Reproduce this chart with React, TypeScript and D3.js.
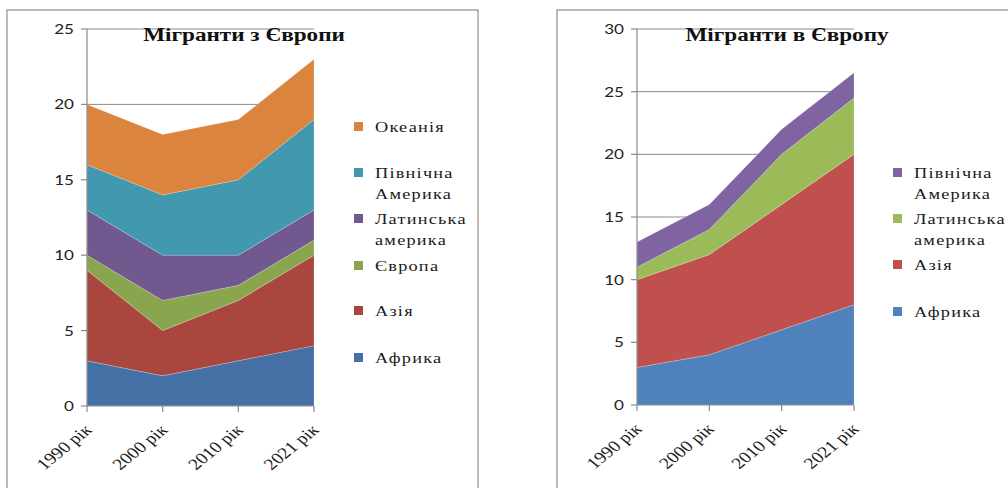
import React, { useEffect, useRef } from 'react';
import * as d3 from 'd3';

const years = ['1990 рік', '2000 рік', '2010 рік', '2021 рік'];

// Мігранти з Європи (bottom to top)
const fromKeys = ['Африка', 'Азія', 'Європа', 'Латинська америка', 'Північна Америка', 'Океанія'];
const fromAfrica = [3, 2, 3, 4];
const fromAsia = [6, 3, 4, 6];
const fromEurope = [1, 2, 1, 1];
const fromLatin = [3, 3, 2, 2];
const fromNorth = [3, 4, 5, 6];
const fromOceania = [4, 4, 4, 4];
const fromColors = ['#4470a6', '#a9473f', '#89a54e', '#71588f', '#4198af', '#db843d'];

// Мігранти в Європу (bottom to top)
const toKeys = ['Африка', 'Азія', 'Латинська америка', 'Північна Америка'];
const toAfrica = [3, 4, 6, 8];
const toAsia = [7, 8, 10, 12];
const toLatin = [1, 2, 4, 4.5];
const toNorth = [2, 2, 2, 2];
const toColors = ['#4f81bd', '#c0504d', '#9bbb59', '#8064a2'];

const serif = '"Liberation Serif", "Times New Roman", serif';
const sans = 'Lato, "Liberation Sans", sans-serif';
// the source picture is stretched sideways a little
const SX = 1.22;

type Legend = { key: string; lines: string[]; y: number };

function drawPanel(svg, opts) {
  const { series, keys, colors, x0, x1, yTop, yBottom, yMax, title, titleX, legendX, legend, frame } = opts;
  const g = svg.append('g');

  g.append('rect')
    .attr('x', frame[0]).attr('y', frame[1])
    .attr('width', frame[2]).attr('height', frame[3])
    .attr('fill', '#fff').attr('stroke', '#8c8c8c').attr('stroke-width', 1.2);

  const rows = years.map((yr, i) => {
    const r: any = { year: yr };
    keys.forEach((k, j) => { r[k] = series[j][i]; });
    return r;
  });
  const stacked = d3.stack().keys(keys)(rows);

  const x = d3.scalePoint().domain(years).range([x0, x1]);
  const y = d3.scaleLinear().domain([0, yMax]).range([yBottom, yTop]);

  const ticks = d3.range(0, yMax + 1, 5);
  g.selectAll('.grid').data(ticks.filter(t => t > 0)).join('line')
    .attr('x1', x0).attr('x2', x1)
    .attr('y1', d => y(d)).attr('y2', d => y(d))
    .attr('stroke', '#8a8a8a').attr('stroke-width', 1);

  const area = d3.area<any>()
    .x((d, i) => x(years[i]))
    .y0(d => y(d[0]))
    .y1(d => y(d[1]));

  g.selectAll('.layer').data(stacked).join('path')
    .attr('d', area)
    .attr('fill', (d, i) => colors[i])
    .attr('stroke', 'rgba(255,255,255,0.35)')
    .attr('stroke-width', 0.6);

  // axes
  g.append('line').attr('x1', x0).attr('x2', x0).attr('y1', yTop).attr('y2', yBottom)
    .attr('stroke', '#8a8a8a').attr('stroke-width', 1.2);
  g.append('line').attr('x1', x0).attr('x2', x1).attr('y1', yBottom).attr('y2', yBottom)
    .attr('stroke', '#8a8a8a').attr('stroke-width', 1.2);

  ticks.forEach(t => {
    g.append('line').attr('x1', x0 - 6).attr('x2', x0).attr('y1', y(t)).attr('y2', y(t))
      .attr('stroke', '#8a8a8a').attr('stroke-width', 1.2);
    g.append('text')
      .attr('transform', `translate(${x0 - 13},${y(t)}) scale(${SX},1)`)
      .attr('dy', '0.36em')
      .attr('text-anchor', 'end').attr('font-family', sans).attr('font-size', 14)
      .attr('fill', '#222').text(t);
  });

  years.forEach(yr => {
    const px = x(yr);
    g.append('line').attr('x1', px).attr('x2', px).attr('y1', yBottom).attr('y2', yBottom + 6)
      .attr('stroke', '#8a8a8a').attr('stroke-width', 1.2);
    g.append('text')
      .attr('transform', `translate(${px + 6},${yBottom + 25}) scale(${SX},1) rotate(-45)`)
      .attr('text-anchor', 'end').attr('font-family', serif).attr('font-size', 16)
      .attr('fill', '#1a1a1a').text(yr);
  });

  g.append('text')
    .attr('transform', `translate(${titleX},${yTop + 12}) scale(${SX},1)`)
    .attr('text-anchor', 'middle').attr('font-family', serif).attr('font-weight', 'bold')
    .attr('font-size', 19).attr('fill', '#111').text(title);

  legend.forEach((l: Legend) => {
    const idx = keys.indexOf(l.key);
    g.append('rect').attr('x', legendX).attr('y', l.y - 5).attr('width', 9).attr('height', 9)
      .attr('fill', colors[idx]);
    l.lines.forEach((ln, k) => {
      g.append('text')
        .attr('transform', `translate(${legendX + 21},${l.y + k * 21}) scale(${SX},1)`)
        .attr('dy', '0.35em')
        .attr('font-family', serif).attr('font-size', 15).attr('letter-spacing', 1)
        .attr('fill', '#1a1a1a').text(ln);
    });
  });
}

export default function App() {
  const ref = useRef<SVGSVGElement>(null);

  useEffect(() => {
    const svg = d3.select(ref.current);
    svg.selectAll('*').remove();

    drawPanel(svg, {
      series: [fromAfrica, fromAsia, fromEurope, fromLatin, fromNorth, fromOceania],
      keys: fromKeys, colors: fromColors,
      x0: 87, x1: 314, yTop: 29, yBottom: 406, yMax: 25,
      title: 'Мігранти з Європи', titleX: 244, legendX: 354,
      frame: [7, 10, 471, 500],
      legend: [
        { key: 'Океанія', lines: ['Океанія'], y: 127 },
        { key: 'Північна Америка', lines: ['Північна', 'Америка'], y: 173 },
        { key: 'Латинська америка', lines: ['Латинська', 'америка'], y: 219 },
        { key: 'Європа', lines: ['Європа'], y: 266 },
        { key: 'Азія', lines: ['Азія'], y: 311 },
        { key: 'Африка', lines: ['Африка'], y: 358 },
      ],
    });

    drawPanel(svg, {
      series: [toAfrica, toAsia, toLatin, toNorth],
      keys: toKeys, colors: toColors,
      x0: 637, x1: 854, yTop: 29, yBottom: 405, yMax: 30,
      title: 'Мігранти в Європу', titleX: 787, legendX: 893,
      frame: [557, 10, 500, 500],
      legend: [
        { key: 'Північна Америка', lines: ['Північна', 'Америка'], y: 173 },
        { key: 'Латинська америка', lines: ['Латинська', 'америка'], y: 219 },
        { key: 'Азія', lines: ['Азія'], y: 265 },
        { key: 'Африка', lines: ['Африка'], y: 312 },
      ],
    });
  }, []);

  return (
    <svg
      ref={ref}
      width={1008}
      height={488}
      style={{ position: 'absolute', left: 0, top: 0, display: 'block', overflow: 'hidden' }}
    />
  );
}
